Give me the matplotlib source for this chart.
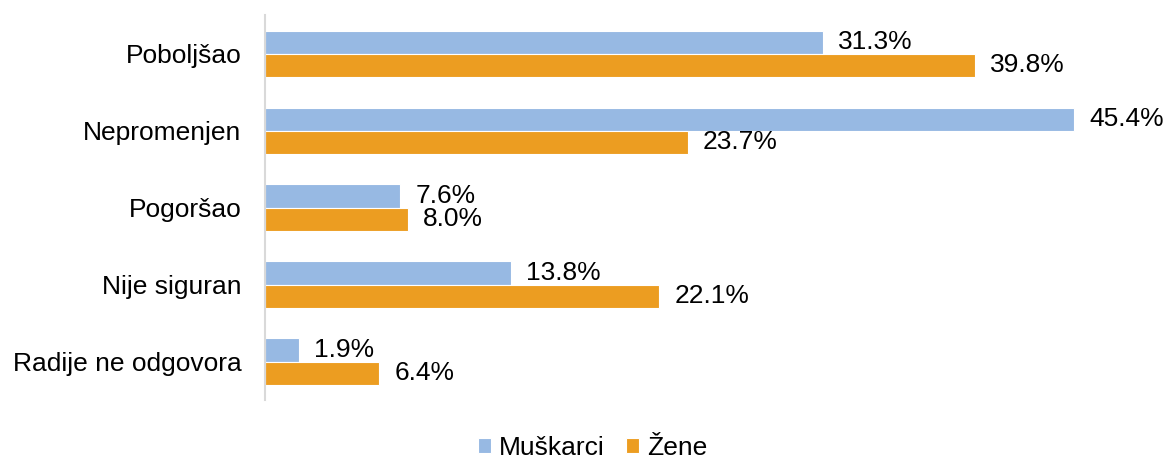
import matplotlib
matplotlib.use("Agg")
import matplotlib.pyplot as plt
import numpy as np

categories = ["Poboljšao", "Nepromenjen", "Pogoršao", "Nije siguran", "Radije ne odgovora"]
muskarci = [31.3, 45.4, 7.6, 13.8, 1.9]
zene = [39.8, 23.7, 8.0, 22.1, 6.4]

BLUE = "#97B9E3"
ORANGE = "#EC9D21"

plt.rcParams["font.family"] = ["Liberation Sans", "DejaVu Sans"]

fig = plt.figure(figsize=(11.67, 4.59), dpi=100)
ax = fig.add_axes([0.227, 0.1285, 0.764, 0.8385])

y = np.arange(len(categories))
h = 0.3
b1 = ax.barh(y - h / 2, muskarci, height=h, color=BLUE, edgecolor="white", linewidth=0.8, label="Muškarci")
b2 = ax.barh(y + h / 2, zene, height=h, color=ORANGE, edgecolor="white", linewidth=0.8, label="Žene")

# etiquetas de valor a la derecha de cada barra
for bars, vals in ((b1, muskarci), (b2, zene)):
    for bar, v in zip(bars, vals):
        ax.annotate(f"{v:.1f}%", (bar.get_width(), bar.get_y() + bar.get_height() / 2),
                    textcoords="offset points", xytext=(11, 0), va="center", ha="left",
                    fontsize=19, color="#000000")

ax.set_xlim(0, 50)
ax.set_ylim(len(categories) - 0.5, -0.5)
ax.set_yticks(y)
ax.set_yticklabels(categories, fontsize=19)
ax.set_xticks([])
ax.tick_params(axis="y", length=0, pad=17)
for s in ("top", "right", "bottom"):
    ax.spines[s].set_visible(False)
ax.spines["left"].set_color("#D9D9D9")
ax.spines["left"].set_linewidth(1.5)

fig.legend(loc="center", bbox_to_anchor=(0.508, 0.025), ncol=2, frameon=False,
           fontsize=19, handlelength=0.5, handleheight=0.5, handletextpad=0.3, columnspacing=0.8)

fig.savefig("out.png", dpi=100)
